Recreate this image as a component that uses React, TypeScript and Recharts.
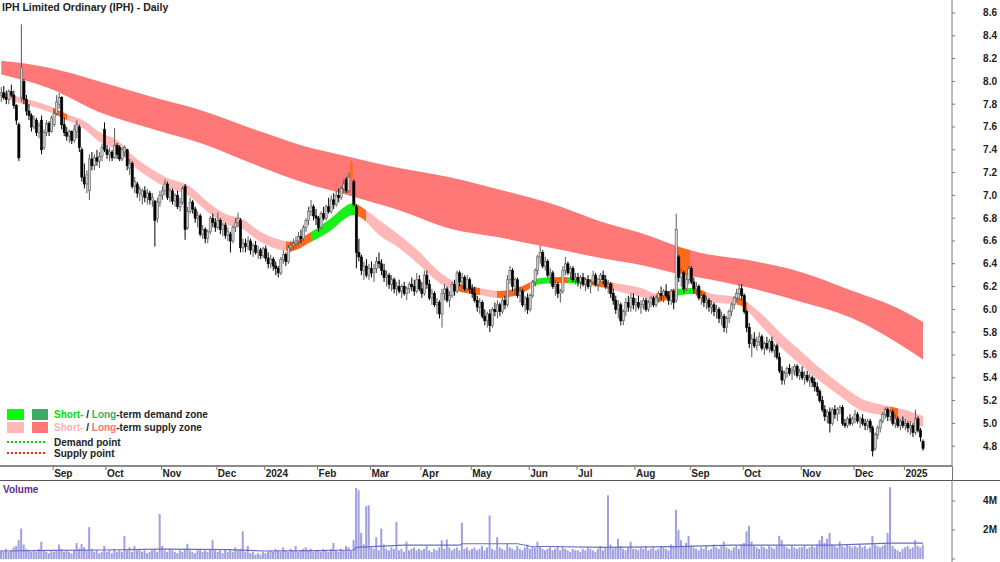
import React from 'react';
import { ComposedChart, Bar, Area, Line, XAxis, YAxis } from 'recharts';

type K = [number, number, number, number]; // open, high, low, close

// ---- daily OHLC, one array per month ----
const aug23: K[] = [
  [7.88,7.95,7.82,7.90],[7.90,7.96,7.84,7.86],[7.86,7.92,7.80,7.84],[7.84,7.93,7.80,7.91],[7.91,7.97,7.86,7.88],
  [7.88,7.92,7.76,7.79],[7.79,7.80,7.62,7.66],[7.62,7.64,7.30,7.33],[7.86,8.50,7.82,8.12],[8.00,8.02,7.80,7.84],
  [7.84,7.88,7.70,7.74],[7.74,7.80,7.66,7.70],[7.70,7.72,7.56,7.60],[7.60,7.70,7.58,7.67],[7.66,7.68,7.52,7.55],
  [7.55,7.64,7.50,7.61],[7.66,7.70,7.36,7.40],[7.42,7.58,7.40,7.55],[7.55,7.66,7.52,7.63],[7.63,7.65,7.52,7.56],
  [7.56,7.70,7.55,7.68],
];
const sep23: K[] = [
  [7.62,7.75,7.60,7.72],[7.72,7.88,7.70,7.82],[7.80,7.90,7.76,7.86],[7.86,7.87,7.58,7.62],[7.62,7.68,7.52,7.55],
  [7.55,7.60,7.48,7.52],[7.52,7.58,7.46,7.56],[7.56,7.57,7.45,7.48],[7.48,7.62,7.46,7.58],[7.56,7.66,7.50,7.62],
  [7.60,7.62,7.38,7.42],[7.40,7.42,7.12,7.16],[7.16,7.28,7.06,7.10],[7.10,7.22,7.02,7.18],[7.04,7.36,6.96,7.32],
  [7.32,7.38,7.22,7.26],[7.26,7.36,7.22,7.33],[7.33,7.40,7.26,7.30],[7.30,7.38,7.24,7.34],[7.34,7.45,7.30,7.42],
  [7.58,7.64,7.38,7.40],
];
const oct23: K[] = [
  [7.40,7.44,7.32,7.36],[7.36,7.42,7.30,7.38],[7.38,7.40,7.30,7.33],[7.33,7.59,7.32,7.44],[7.44,7.46,7.32,7.36],
  [7.42,7.44,7.30,7.32],[7.32,7.42,7.30,7.40],[7.38,7.44,7.34,7.42],[7.40,7.41,7.22,7.26],[7.24,7.32,7.18,7.28],
  [7.28,7.30,7.06,7.08],[7.08,7.16,7.02,7.12],[7.10,7.12,6.98,7.02],[7.02,7.08,6.95,7.05],[7.00,7.06,6.92,7.04],
  [7.04,7.08,6.94,6.98],[6.98,7.06,6.92,7.02],[7.02,7.04,6.92,6.96],[6.96,7.02,6.90,6.98],[6.95,6.96,6.55,6.78],
  [6.80,6.98,6.76,6.94],[6.94,7.04,6.90,7.00],
];
const nov23: K[] = [
  [7.00,7.08,6.96,7.04],[7.04,7.14,7.00,7.10],[7.10,7.12,6.96,6.98],[6.98,7.06,6.94,7.04],[7.04,7.06,6.92,6.95],
  [6.95,7.02,6.90,7.00],[7.00,7.04,6.88,6.90],[6.90,6.98,6.86,6.94],[6.94,7.08,6.92,7.06],[7.08,7.10,6.61,6.70],
  [6.72,6.90,6.70,6.86],[6.86,6.98,6.84,6.94],[6.94,6.96,6.84,6.88],[6.88,6.90,6.76,6.80],[6.80,6.86,6.72,6.82],
  [6.82,6.84,6.64,6.66],[6.66,6.74,6.62,6.70],[6.70,6.72,6.58,6.62],[6.62,6.70,6.58,6.68],[6.68,6.82,6.66,6.80],
  [6.80,6.84,6.72,6.76],[6.76,6.80,6.68,6.72],
];
const dec23: K[] = [
  [6.72,6.85,6.70,6.78],[6.78,6.80,6.66,6.70],[6.70,6.76,6.64,6.74],[6.74,6.76,6.62,6.65],[6.65,6.72,6.60,6.68],
  [6.66,6.68,6.50,6.60],[6.60,6.74,6.58,6.72],[6.72,6.80,6.68,6.76],[6.76,6.85,6.72,6.80],[6.78,6.80,6.50,6.54],
  [6.54,6.62,6.50,6.58],[6.58,6.62,6.50,6.55],[6.55,6.64,6.52,6.60],[6.60,6.62,6.48,6.52],[6.52,6.58,6.46,6.56],
  [6.56,6.60,6.48,6.50],[6.50,6.56,6.44,6.52],[6.52,6.54,6.44,6.47],[6.47,6.55,6.45,6.53],
];
const jan24: K[] = [
  [6.53,6.56,6.42,6.45],[6.45,6.50,6.36,6.40],[6.40,6.48,6.36,6.44],[6.44,6.46,6.34,6.38],[6.38,6.42,6.30,6.36],
  [6.36,6.38,6.28,6.32],[6.32,6.46,6.30,6.44],[6.44,6.52,6.40,6.48],[6.48,6.50,6.38,6.42],[6.42,6.56,6.40,6.54],
  [6.54,6.60,6.50,6.56],[6.56,6.62,6.52,6.58],[6.58,6.64,6.54,6.60],[6.60,6.68,6.56,6.64],[6.64,6.70,6.58,6.62],
  [6.62,6.74,6.60,6.72],[6.72,6.80,6.68,6.78],[6.78,6.90,6.74,6.86],[6.86,6.96,6.82,6.90],[6.90,6.92,6.78,6.82],
  [6.82,6.88,6.74,6.80],
];
const feb24: K[] = [
  [6.80,6.82,6.68,6.72],[6.72,6.86,6.70,6.84],[6.84,6.90,6.78,6.80],[6.80,6.92,6.78,6.90],[6.90,6.98,6.84,6.86],
  [6.86,7.00,6.84,6.96],[6.96,7.02,6.88,6.92],[6.92,7.04,6.90,7.00],[7.00,7.06,6.94,6.98],[6.98,7.08,6.96,7.06],
  [7.06,7.14,7.02,7.10],[7.14,7.16,7.02,7.04],[7.04,7.20,7.02,7.16],[7.16,7.31,7.12,7.28],[7.12,7.14,6.90,6.92],
  [6.90,6.92,6.36,6.50],[6.50,6.62,6.42,6.46],[6.46,6.48,6.30,6.34],[6.34,6.42,6.26,6.38],[6.38,6.44,6.28,6.30],
  [6.30,6.40,6.26,6.36],
];
const mar24: K[] = [
  [6.36,6.42,6.28,6.32],[6.32,6.40,6.24,6.36],[6.36,6.46,6.32,6.42],[6.42,6.50,6.36,6.40],[6.40,6.44,6.30,6.34],
  [6.34,6.40,6.24,6.28],[6.28,6.34,6.20,6.30],[6.30,6.32,6.18,6.22],[6.22,6.30,6.16,6.26],[6.26,6.28,6.14,6.18],
  [6.18,6.24,6.12,6.20],[6.20,6.26,6.14,6.16],[6.16,6.22,6.10,6.20],[6.20,6.24,6.12,6.14],[6.14,6.20,6.08,6.18],
  [6.18,6.24,6.14,6.22],[6.22,6.28,6.16,6.20],[6.20,6.26,6.12,6.16],[6.16,6.32,6.14,6.26],[6.26,6.30,6.16,6.18],
];
const apr24: K[] = [
  [6.18,6.24,6.10,6.14],[6.14,6.34,6.12,6.30],[6.30,6.34,6.18,6.22],[6.22,6.26,6.08,6.10],[6.10,6.18,6.04,6.14],
  [6.14,6.16,6.02,6.04],[6.04,6.10,5.96,6.06],[6.06,6.08,5.92,5.96],[5.96,6.18,5.84,6.14],[6.14,6.22,6.08,6.18],
  [6.18,6.20,6.06,6.08],[6.08,6.16,6.02,6.12],[6.12,6.24,6.10,6.22],[6.22,6.26,6.12,6.16],[6.16,6.34,6.14,6.32],
  [6.32,6.34,6.20,6.24],[6.24,6.32,6.18,6.28],[6.28,6.30,6.16,6.18],[6.18,6.30,6.16,6.26],[6.26,6.28,6.14,6.18],
];
const may24: K[] = [
  [6.18,6.22,6.10,6.14],[6.14,6.20,6.06,6.08],[6.08,6.12,5.98,6.02],[6.02,6.10,5.96,6.06],[6.06,6.08,5.92,5.94],
  [5.94,6.00,5.86,5.90],[5.90,5.98,5.84,5.96],[5.96,6.00,5.80,5.86],[5.86,6.02,5.84,6.00],[6.00,6.06,5.94,5.98],
  [5.98,6.08,5.92,6.04],[6.04,6.06,5.94,5.98],[5.98,6.10,5.96,6.08],[6.08,6.12,6.00,6.04],[6.04,6.30,6.02,6.26],
  [6.26,6.38,6.22,6.34],[6.34,6.36,6.16,6.20],[6.20,6.28,6.12,6.26],[6.26,6.28,6.10,6.12],[6.12,6.20,6.06,6.16],
  [6.16,6.18,6.02,6.04],[6.04,6.12,5.98,6.10],[6.10,6.14,5.96,6.00],
];
const jun24: K[] = [
  [6.00,6.14,5.98,6.12],[6.12,6.26,6.10,6.24],[6.24,6.36,6.20,6.34],[6.34,6.48,6.30,6.46],[6.46,6.56,6.40,6.50],
  [6.50,6.52,6.36,6.38],[6.38,6.46,6.34,6.42],[6.42,6.44,6.28,6.30],[6.30,6.36,6.22,6.32],[6.32,6.34,6.18,6.20],
  [6.20,6.26,6.12,6.22],[6.22,6.24,6.10,6.14],[6.14,6.18,6.06,6.16],[6.16,6.38,6.14,6.34],[6.34,6.46,6.30,6.40],
  [6.40,6.42,6.30,6.32],[6.32,6.38,6.26,6.36],[6.36,6.38,6.24,6.26],[6.26,6.32,6.22,6.28],
];
const jul24: K[] = [
  [6.28,6.32,6.20,6.24],[6.24,6.30,6.18,6.28],[6.28,6.32,6.20,6.22],[6.22,6.28,6.16,6.26],[6.26,6.30,6.18,6.20],
  [6.20,6.26,6.14,6.24],[6.24,6.34,6.22,6.30],[6.30,6.32,6.20,6.22],[6.22,6.28,6.16,6.26],[6.26,6.32,6.24,6.30],
  [6.30,6.34,6.22,6.26],[6.26,6.30,6.18,6.20],[6.20,6.26,6.14,6.22],[6.22,6.24,6.10,6.14],[6.14,6.18,6.04,6.08],
  [6.08,6.12,5.96,6.00],[6.00,6.08,5.92,6.04],[6.04,6.06,5.86,5.90],[5.90,6.00,5.86,5.98],[5.98,6.10,5.94,6.06],
  [6.06,6.12,5.98,6.02],[6.02,6.14,5.98,6.10],[6.10,6.14,6.00,6.04],
];
const aug24: K[] = [
  [6.04,6.10,5.98,6.06],[6.06,6.12,6.00,6.02],[6.02,6.08,5.96,6.04],[6.04,6.10,6.00,6.08],[6.08,6.10,5.98,6.00],
  [6.00,6.08,5.98,6.06],[6.06,6.12,6.02,6.10],[6.10,6.12,6.02,6.04],[6.04,6.12,6.02,6.10],[6.10,6.16,6.06,6.14],
  [6.14,6.20,6.08,6.12],[6.12,6.18,6.06,6.16],[6.16,6.22,6.10,6.12],[6.12,6.16,6.04,6.08],[6.08,6.18,6.04,6.16],
  [6.16,6.18,6.00,6.06],[6.08,6.84,6.06,6.70],[6.46,6.48,6.24,6.28],[6.28,6.36,6.20,6.32],[6.32,6.34,6.14,6.18],
  [6.18,6.30,6.16,6.26],[6.26,6.38,6.22,6.36],
];
const sep24: K[] = [
  [6.36,6.38,6.22,6.24],[6.24,6.28,6.14,6.18],[6.18,6.24,6.12,6.20],[6.20,6.22,6.08,6.10],[6.10,6.16,6.04,6.12],
  [6.12,6.14,6.02,6.06],[6.06,6.12,6.00,6.08],[6.08,6.10,5.98,6.02],[6.02,6.08,5.96,6.04],[6.04,6.06,5.94,5.98],
  [5.98,6.04,5.92,6.00],[6.00,6.02,5.88,5.92],[5.92,5.98,5.86,5.94],[5.94,5.96,5.80,5.84],[5.84,5.94,5.79,5.92],
  [5.92,6.00,5.88,5.98],[5.98,6.06,5.94,6.04],[6.04,6.12,6.00,6.10],[6.10,6.18,6.06,6.14],[6.14,6.22,6.08,6.18],
  [6.18,6.22,6.08,6.12],
];
const oct24: K[] = [
  [6.12,6.14,5.96,5.98],[5.98,6.00,5.80,5.84],[5.84,5.88,5.66,5.70],[5.70,5.78,5.58,5.74],[5.74,5.80,5.66,5.68],
  [5.68,5.76,5.64,5.72],[5.72,5.80,5.68,5.76],[5.76,5.78,5.64,5.66],[5.66,5.72,5.60,5.70],[5.70,5.76,5.64,5.66],
  [5.66,5.74,5.62,5.72],[5.72,5.76,5.62,5.64],[5.64,5.70,5.58,5.68],[5.68,5.70,5.56,5.58],[5.58,5.62,5.44,5.46],
  [5.46,5.50,5.34,5.38],[5.38,5.46,5.34,5.44],[5.44,5.50,5.40,5.48],[5.48,5.52,5.42,5.44],[5.44,5.50,5.38,5.46],
  [5.46,5.52,5.42,5.50],[5.50,5.52,5.40,5.42],[5.42,5.48,5.38,5.45],
];
const nov24: K[] = [
  [5.45,5.50,5.38,5.40],[5.40,5.46,5.34,5.42],[5.42,5.46,5.36,5.38],[5.38,5.44,5.32,5.40],[5.40,5.42,5.32,5.36],
  [5.36,5.40,5.28,5.32],[5.32,5.36,5.24,5.28],[5.28,5.30,5.18,5.20],[5.20,5.24,5.10,5.12],[5.12,5.16,5.02,5.06],
  [5.06,5.12,5.00,5.10],[5.10,5.14,4.92,5.00],[5.00,5.14,4.98,5.12],[5.12,5.16,5.04,5.08],[5.08,5.14,5.02,5.12],
  [5.12,5.16,5.08,5.14],[5.14,5.16,4.98,5.00],[5.00,5.04,4.96,4.98],[4.98,5.06,4.96,5.04],[5.04,5.08,4.98,5.00],
  [5.00,5.06,4.98,5.04],
];
const dec24: K[] = [
  [5.04,5.12,5.00,5.08],[5.08,5.10,5.00,5.02],[5.02,5.06,4.96,5.04],[5.04,5.08,4.98,5.00],[5.00,5.04,4.94,4.98],
  [4.98,5.04,4.94,5.02],[5.02,5.04,4.92,4.96],[4.96,4.98,4.71,4.76],[4.78,4.92,4.76,4.90],[4.90,4.98,4.86,4.96],
  [4.96,5.04,4.92,5.02],[5.02,5.10,5.00,5.08],[5.08,5.14,5.04,5.12],[5.12,5.14,5.02,5.06],[5.06,5.12,5.02,5.10],
  [5.10,5.12,4.98,5.00],[5.00,5.08,4.96,5.04],[5.04,5.06,4.96,4.98],[4.98,5.04,4.94,5.02],[5.02,5.06,4.96,4.98],
];
const jan25: K[] = [
  [4.98,5.04,4.94,5.00],[5.00,5.02,4.92,4.96],[4.96,5.02,4.90,4.98],[4.98,5.00,4.88,4.92],[4.92,5.12,4.90,5.04],
  [5.04,5.06,4.92,4.94],[4.94,4.96,4.84,4.88],[4.84,4.86,4.76,4.78],
];

// ---- daily volume (millions), one array per month ----
const volAug23 = [0.6,0.5,0.7,0.5,0.6,0.8,0.9,1.3,2.1,1.0,0.7,0.6,0.5,0.6,0.5,0.7,1.2,0.6,0.5,0.4,0.6];
const volSep23 = [0.5,0.6,1.0,0.7,0.5,0.6,0.5,0.4,0.6,1.1,0.7,1.05,0.8,0.6,2.2,0.7,0.5,0.6,0.4,0.5,0.9];
const volOct23 = [0.5,0.6,0.4,0.7,0.5,0.6,0.5,1.6,0.6,0.8,0.5,0.9,0.6,0.7,0.5,0.6,0.4,0.5,0.6,0.7,0.5,3.1];
const volNov23 = [0.9,0.6,0.5,0.7,0.6,0.5,0.4,0.6,0.5,0.7,1.05,0.6,0.5,0.4,0.6,0.7,0.5,0.6,0.5,0.7,1.3,0.6];
const volDec23 = [0.5,0.6,0.4,0.7,0.5,0.6,0.5,0.8,0.6,0.7,1.9,0.5,0.9,0.4,0.5,0.3,0.4,0.3,0.5];
const volJan24 = [0.4,0.5,0.6,0.5,0.7,0.6,0.5,0.8,0.6,0.5,0.7,0.6,0.9,0.5,0.6,0.7,0.8,0.6,0.7,0.5,0.6];
const volFeb24 = [0.6,0.5,0.7,0.6,0.5,0.7,1.1,0.6,0.5,0.7,0.6,0.9,0.8,0.6,1.3,4.9,4.75,1.8,1.0,3.65,3.7];
const volMar24 = [0.8,0.7,1.5,0.6,2.1,1.0,0.7,0.6,0.8,0.7,2.55,0.6,0.7,0.5,1.2,0.6,0.7,0.8,0.6,0.7];
const volApr24 = [0.6,0.7,0.9,0.6,0.5,0.7,0.6,0.8,1.3,0.7,1.35,0.8,0.6,0.7,0.8,0.6,2.5,0.7,0.8,0.6];
const volMay24 = [0.7,0.8,0.6,0.7,0.9,0.6,0.8,3.0,0.7,0.6,1.5,0.8,0.7,0.6,1.1,0.8,0.7,0.6,0.9,0.7,0.6,0.8,1.0];
const volJun24 = [0.7,0.9,0.8,1.2,0.9,0.7,0.6,0.7,0.8,0.6,0.7,0.9,0.6,0.8,0.7,0.6,0.5,0.7,0.6];
const volJul24 = [0.6,0.5,0.7,0.6,0.8,0.7,0.6,0.5,0.7,0.9,0.6,0.8,4.4,1.0,0.7,0.8,1.4,0.9,0.7,0.6,0.8,1.2,0.7];
const volAug24 = [0.7,0.6,0.8,0.7,0.9,0.6,0.7,0.8,0.6,0.7,0.9,0.8,0.7,0.6,1.0,0.9,3.4,2.0,1.3,0.9,1.1,1.6];
const volSep24 = [0.9,0.8,0.7,0.6,0.8,0.7,0.9,0.6,0.7,1.0,0.8,0.7,0.9,1.2,0.8,0.7,0.6,0.8,0.9,0.7,1.0];
const volOct24 = [1.1,1.9,2.3,1.2,0.9,0.8,0.7,0.9,0.8,0.7,0.9,0.8,0.7,0.9,1.6,1.3,0.9,0.8,0.7,0.9,0.8,0.7,0.8];
const volNov24 = [0.8,0.9,0.7,0.8,0.9,0.8,1.0,1.3,1.6,1.1,1.4,1.8,1.0,0.9,0.8,1.2,0.9,0.8,1.0,0.9,0.8];
const volDec24 = [0.9,0.8,1.0,0.8,0.9,0.7,0.8,1.6,1.0,0.9,0.8,0.9,1.0,1.8,4.95,0.9,0.7,0.6,0.5,0.7];
const volJan25 = [0.8,0.9,0.7,0.8,1.3,0.9,0.8,1.0];

// volume moving average, read at key days (day index, millions)
const volMaIdx = [0, 20, 40, 64, 90, 105, 125, 140, 141, 160, 182, 183, 205, 210, 240, 268, 290, 330, 353, 366];
const volMaVal = [0.55, 0.6, 0.62, 0.68, 0.65, 0.55, 0.58, 0.62, 0.8, 0.95, 0.95, 1.05, 1.05, 0.88, 0.8, 0.85, 0.95, 0.95, 1.1, 1.1];

// long-term supply zone (day index, lower, upper)
const longIdx = [0, 19, 39, 59, 79, 103, 119, 138, 158, 178, 198, 218, 238, 258, 269, 277, 297, 317, 337, 357, 366];
const longLo = [8.06, 7.94, 7.73, 7.59, 7.46, 7.25, 7.12, 7.00, 6.87, 6.71, 6.63, 6.54, 6.45, 6.37, 6.31, 6.28, 6.19, 6.07, 5.93, 5.69, 5.56];
const longHi = [8.18, 8.12, 8.00, 7.87, 7.75, 7.56, 7.44, 7.34, 7.24, 7.16, 7.05, 6.93, 6.77, 6.64, 6.55, 6.50, 6.43, 6.33, 6.17, 6.00, 5.89];

// short-term zone (day index, lower, upper)
const shortIdx = [0, 7, 13, 19, 26, 33, 39, 47, 52, 59, 66, 74, 82, 90, 95, 103, 111, 115, 123, 130, 140, 143, 150, 158, 166, 174, 181, 190, 198, 206, 214, 222, 230, 238, 246, 254, 261, 268, 275, 281, 293, 301, 309, 317, 325, 333, 341, 352, 359, 366];
const shortLo = [7.863, 7.811, 7.775, 7.732, 7.661, 7.582, 7.468, 7.381, 7.267, 7.153, 7.065, 7.004, 6.854, 6.740, 6.714, 6.591, 6.521, 6.512, 6.591, 6.679, 6.828, 6.802, 6.653, 6.539, 6.389, 6.232, 6.161, 6.126, 6.100, 6.135, 6.223, 6.232, 6.223, 6.196, 6.153, 6.109, 6.065, 6.118, 6.135, 6.065, 6.039, 5.872, 5.679, 5.521, 5.372, 5.240, 5.118, 5.065, 5.021, 4.968];
const shortHi = [7.907, 7.863, 7.828, 7.784, 7.714, 7.653, 7.556, 7.468, 7.354, 7.240, 7.153, 7.091, 6.942, 6.828, 6.802, 6.679, 6.609, 6.591, 6.679, 6.784, 6.933, 6.898, 6.784, 6.653, 6.504, 6.328, 6.232, 6.188, 6.161, 6.196, 6.275, 6.284, 6.275, 6.249, 6.223, 6.188, 6.135, 6.179, 6.188, 6.144, 6.100, 5.977, 5.802, 5.644, 5.486, 5.346, 5.223, 5.153, 5.118, 5.065];

// zone state changes along the bands (from day, to day, state)
const shortZones: [number, number, string][] = [
  [0, 3, 'mixed'], [20.5, 26, 'mixed'], [113, 123, 'mixed'], [123, 140.5, 'demand'], [140.5, 145, 'mixed'],
  [181, 190, 'mixed'], [197, 210, 'mixed'], [211, 219, 'demand'], [219, 225, 'mixed'], [225, 230, 'demand'],
  [230, 243, 'mixed'], [260, 267, 'mixed'], [268, 275, 'demand'], [275, 280, 'mixed'], [292, 296, 'mixed'],
  [353, 356, 'mixed'],
];
const longZones: [number, number, string][] = [[267.5, 273.5, 'mixed']];
const highlightDays = [139];

const monthNames = ['Aug', 'Sep', 'Oct', 'Nov', 'Dec', '2024', 'Feb', 'Mar', 'Apr', 'May', 'Jun', 'Jul', 'Aug', 'Sep', 'Oct', 'Nov', 'Dec', '2025'];
const priceTicks = [4.8, 5.0, 5.2, 5.4, 5.6, 5.8, 6.0, 6.2, 6.4, 6.6, 6.8, 7.0, 7.2, 7.4, 7.6, 7.8, 8.0, 8.2, 8.4, 8.6];
const volTicks = [0, 2, 4];
const PAD_DAYS = 11;

// ---- build tables ----
const months = [aug23, sep23, oct23, nov23, dec23, jan24, feb24, mar24, apr24, may24, jun24, jul24, aug24, sep24, oct24, nov24, dec24, jan25];
const volMonths = [volAug23, volSep23, volOct23, volNov23, volDec23, volJan24, volFeb24, volMar24, volApr24, volMay24, volJun24, volJul24, volAug24, volSep24, volOct24, volNov24, volDec24, volJan25];
const candles = months.flat();
const vols = volMonths.flat();
const LAST = candles.length - 1;
const SLOTS = candles.length + PAD_DAYS;

const monthStart: number[] = [];
{
  let acc = 0;
  months.forEach((m) => { monthStart.push(acc); acc += m.length; });
}
const tickIdx = monthStart.slice(1);
const tickLabel: Record<number, string> = {};
tickIdx.forEach((t, j) => { tickLabel[t] = monthNames[j + 1]; });

const priceData: any[] = Array.from({ length: SLOTS }, (_, i) => {
  const k = candles[i];
  return { i, k: k ?? null, hl: k ? [k[2], k[1]] : null, lt: null, st: null, hot: highlightDays.includes(i) };
});
longIdx.forEach((d, j) => { priceData[d].lt = [longLo[j], longHi[j]]; });
shortIdx.forEach((d, j) => { priceData[d].st = [shortLo[j], shortHi[j]]; });

const volData: any[] = Array.from({ length: SLOTS }, (_, i) => ({ i, v: i < vols.length ? vols[i] : null, ma: null }));
volMaIdx.forEach((d, j) => { volData[d].ma = volMaVal[j]; });

const ZONE_COLOR: Record<string, string> = { demand: '#19F019', mixed: '#FF6A1A' };
const SHORT_SUPPLY = '#FFB8B8';
const LONG_SUPPLY = '#FF7878';

function zoneStops(zones: [number, number, string][], base: string) {
  const s: { o: number; c: string }[] = [{ o: 0, c: base }];
  zones.forEach(([a, b, z]) => {
    const col = ZONE_COLOR[z];
    s.push({ o: a / LAST, c: base }, { o: a / LAST, c: col }, { o: b / LAST, c: col }, { o: b / LAST, c: base });
  });
  s.push({ o: 1, c: base });
  return s;
}

const FONT = '"Liberation Sans", Arial, Helvetica, sans-serif';

const CandleShape = (props: any) => {
  const { x, y, width, height, payload } = props;
  if (!payload || !payload.k) return <g />;
  const [o, h, l, c] = payload.k as K;
  const k = h > l ? height / (h - l) : 0;
  const cx = x + width / 2;
  const yo = y + (h - o) * k;
  const yc = y + (h - c) * k;
  const up = c >= o;
  const top = Math.min(yo, yc);
  const bh = Math.max(Math.abs(yc - yo), 1);
  let fill = up ? '#D2D2D2' : '#000';
  let stroke = up ? '#5A5A5A' : '#000';
  if (payload.hot) { fill = '#FF6A1A'; stroke = '#FF6A1A'; }
  return (
    <g>
      <line x1={cx} x2={cx} y1={y} y2={y + height} stroke={stroke} strokeWidth={1} />
      <rect x={cx - 1.1} y={top} width={2.2} height={bh} fill={fill} stroke={stroke} strokeWidth={0.6} />
    </g>
  );
};

const MonthTick = (props: any) => {
  const { x, y, payload } = props;
  return (
    <g>
      <line x1={x - 1} x2={x - 1} y1={y} y2={y + 4} stroke="#777" strokeWidth={1} />
      <text x={x} y={y + 10.5} fontSize={10} fontWeight="bold" fill="#222" fontFamily={FONT}>{tickLabel[payload.value]}</text>
    </g>
  );
};

const PriceTick = (props: any) => {
  const { y, payload } = props;
  return (
    <text x={997} y={y} dy={3.5} textAnchor="end" fontSize={10} fontWeight="bold" fill="#222" fontFamily={FONT}>
      {Number(payload.value).toFixed(1)}
    </text>
  );
};

const VolTick = (props: any) => {
  const { y, payload } = props;
  if (payload.value === 0) return <g />;
  return (
    <text x={997} y={y} dy={3.5} textAnchor="end" fontSize={10} fontWeight="bold" fill="#222" fontFamily={FONT}>
      {`${payload.value}M`}
    </text>
  );
};

export default function App() {
  const shortStops = zoneStops(shortZones, SHORT_SUPPLY);
  const longStops = zoneStops(longZones, LONG_SUPPLY);
  return (
    <div style={{ position: 'absolute', left: 0, top: 0, width: 1000, height: 562, background: '#fff', overflow: 'hidden' }}>
      <div style={{ position: 'absolute', left: 0, top: 0 }}>
        <ComposedChart width={1000} height={480} data={priceData} margin={{ top: 0, right: 0, bottom: 0, left: 0 }}>
          <defs>
            <linearGradient id="stg" x1="0" y1="0" x2="1" y2="0">
              {shortStops.map((s, j) => <stop key={j} offset={s.o} stopColor={s.c} />)}
            </linearGradient>
            <linearGradient id="ltg" x1="0" y1="0" x2="1" y2="0">
              {longStops.map((s, j) => <stop key={j} offset={s.o} stopColor={s.c} />)}
            </linearGradient>
          </defs>
          <XAxis dataKey="i" type="category" ticks={tickIdx} interval={0} height={14} tickSize={0} tickMargin={0}
            axisLine={{ stroke: '#8C8C8C', strokeWidth: 2 }} tickLine={false} tick={<MonthTick />} />
          <YAxis orientation="right" width={48} domain={[4.626, 8.714]} allowDataOverflow type="number"
            ticks={priceTicks} interval={0} tickSize={3} tickLine={{ stroke: '#777' }} axisLine={{ stroke: '#777' }} tick={<PriceTick />} />
          <Area dataKey="lt" type="monotone" connectNulls stroke="none" fill="url(#ltg)" fillOpacity={1} isAnimationActive={false} dot={false} activeDot={false} />
          <Area dataKey="st" type="monotone" connectNulls stroke="none" fill="url(#stg)" fillOpacity={1} isAnimationActive={false} dot={false} activeDot={false} />
          <Bar dataKey="hl" shape={CandleShape} isAnimationActive={false} />
        </ComposedChart>
      </div>
      <div style={{ position: 'absolute', left: 0, top: 480 }}>
        <ComposedChart width={1000} height={82} data={volData} margin={{ top: 0, right: 0, bottom: 0, left: 0 }}>
          <XAxis dataKey="i" type="category" hide />
          <YAxis orientation="right" width={48} domain={[-0.207, 5.448]} allowDataOverflow type="number"
            ticks={volTicks} interval={0} tickSize={3} tickLine={{ stroke: '#777' }} axisLine={{ stroke: '#777' }} tick={<VolTick />} />
          <Bar dataKey="v" fill="#A0A0E0" barSize={2} isAnimationActive={false} />
          <Line dataKey="ma" type="linear" connectNulls stroke="#6A6ACB" strokeWidth={1.2} dot={false} activeDot={false} isAnimationActive={false} />
        </ComposedChart>
      </div>
      <svg width={1000} height={562} style={{ position: 'absolute', left: 0, top: 0, pointerEvents: 'none' }}>
        <line x1={0} x2={1000} y1={480.5} y2={480.5} stroke="#555" strokeWidth={1} />
        <line x1={952.5} x2={952.5} y1={466} y2={481} stroke="#777" strokeWidth={1} />
        <text x={2} y={11} fontSize={10.5} fontWeight="bold" fill="#222" fontFamily={FONT}>IPH Limited Ordinary (IPH) - Daily</text>
        <text x={3} y={493} fontSize={10} fontWeight="bold" fill="#5A2D8C" fontFamily={FONT}>Volume</text>
        <rect x={7} y={409} width={17} height={11} fill="#00FF00" />
        <rect x={32} y={409} width={16} height={11} fill="#3DAA6A" />
        <text x={54} y={418} fontSize={10} fontWeight="bold" fill="#222" fontFamily={FONT}>
          <tspan fill="#00E000">Short-</tspan><tspan> / </tspan><tspan fill="#3DAA6A">Long</tspan><tspan>-term demand zone</tspan>
        </text>
        <rect x={7} y={422} width={17} height={11} fill="#FFB8B8" />
        <rect x={32} y={422} width={16} height={11} fill="#FF7878" />
        <text x={54} y={431} fontSize={10} fontWeight="bold" fill="#222" fontFamily={FONT}>
          <tspan fill="#FFB0B0">Short-</tspan><tspan> / </tspan><tspan fill="#FF7070">Long</tspan><tspan>-term supply zone</tspan>
        </text>
        <line x1={7} x2={45} y1={442} y2={442} stroke="#00DD00" strokeWidth={2} strokeDasharray="2 2" />
        <text x={54} y={445.5} fontSize={10} fontWeight="bold" fill="#222" fontFamily={FONT}>Demand point</text>
        <line x1={7} x2={45} y1={453} y2={453} stroke="#FF2020" strokeWidth={2} strokeDasharray="2 2" />
        <text x={54} y={457} fontSize={10} fontWeight="bold" fill="#222" fontFamily={FONT}>Supply point</text>
      </svg>
    </div>
  );
}
